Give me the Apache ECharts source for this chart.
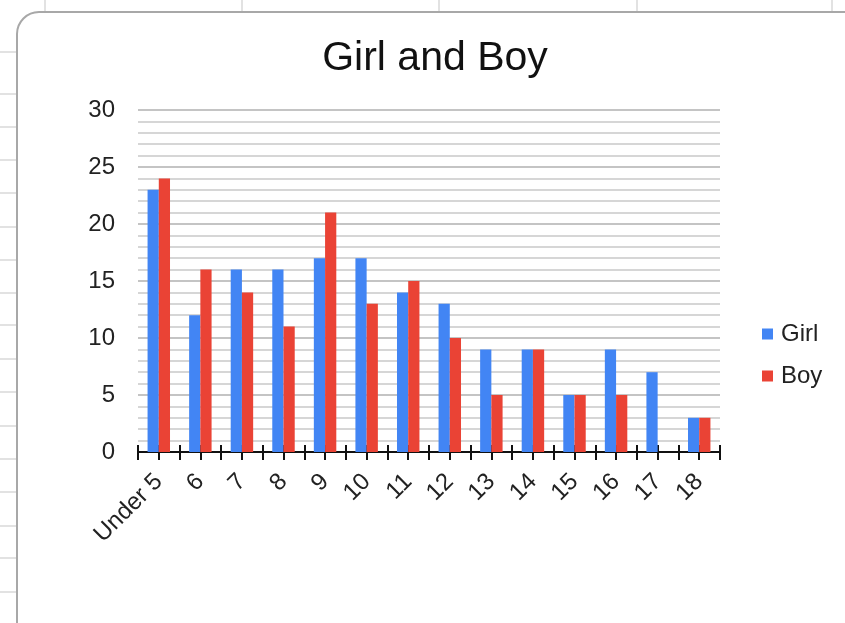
<!DOCTYPE html>
<html>
<head>
<meta charset="utf-8">
<script src="https://cdn.jsdelivr.net/npm/echarts@6/dist/echarts.min.js"></script>
<style>
html,body{margin:0;padding:0;background:#fff;}
#c{width:845px;height:623px;}
</style>
</head>
<body>
<div id="c"></div>
<script>
const categories = ['Under 5','6','7','8','9','10','11','12','13','14','15','16','17','18'];
const girl = [23,12,16,16,17,17,14,13,9,9,5,9,7,3];
const boy  = [24,16,14,11,21,13,15,10,5,9,5,5,0,3];
const yTicks = {min:0, max:30, interval:5};
const titleText = 'Girl and Boy';

// decorative spreadsheet background
const bg = [];
[52,94,127,160,193,227,260,293,325,359,392,426,459,492,526,558,592].forEach(y=>{
  bg.push({type:'line', z:-200, silent:true, shape:{x1:0,y1:y,x2:17,y2:y}, style:{stroke:'#d9d9d9', lineWidth:1.5}});
});
[45,242,439,637,832].forEach(x=>{
  bg.push({type:'line', z:-200, silent:true, shape:{x1:x,y1:0,x2:x,y2:12}, style:{stroke:'#d9d9d9', lineWidth:1.5}});
});
bg.push({type:'rect', z:-100, silent:true, shape:{x:17,y:12,width:860,height:640,r:22}, style:{fill:'#fff', stroke:'#a8a8a8', lineWidth:2}});

const font = 'Liberation Sans, Arial';
// helper axes: ticks at every half category (edges and centres), crossing the axis line
const tickAxis = (inside, len) => ({
  type:'value', min:0, max:categories.length, interval:0.5, position:'bottom', offset:0,
  axisLine:{show:false},
  axisLabel:{show:false},
  axisTick:{show:true, inside:inside, length:len, lineStyle:{color:'#111', width:2}},
  splitLine:{show:false}
});

const chart = echarts.init(document.getElementById('c'));
chart.setOption({
  animation:false,
  backgroundColor:'#fff',
  graphic: bg,
  title:{text:titleText, left:430, top:33, textAlign:'center',
    textStyle:{fontFamily:font, fontSize:41, fontWeight:'normal', color:'#111'}},
  legend:{orient:'vertical', left:762, top:322, padding:0, itemWidth:11, itemHeight:11, itemGap:18,
    icon:'rect', data:['Girl','Boy'],
    textStyle:{fontFamily:font, fontSize:24, color:'#222', padding:[0,0,0,3]}},
  grid:{left:138, right:125, top:110, bottom:171, containLabel:false},
  xAxis:[
    {type:'category', data:categories, position:'bottom',
      axisLine:{show:true, lineStyle:{color:'#111', width:2}},
      axisTick:{show:false},
      axisLabel:{rotate:45, interval:0, margin:26, fontFamily:font, fontSize:24, color:'#222'},
      splitLine:{show:false}},
    tickAxis(false, 8),
    tickAxis(true, 7)
  ],
  yAxis:{type:'value', min:yTicks.min, max:yTicks.max, interval:yTicks.interval,
    axisLine:{show:false}, axisTick:{show:false},
    axisLabel:{margin:23, fontFamily:font, fontSize:24, color:'#222'},
    splitLine:{show:true, lineStyle:{color:'#c4c4c4', width:2}},
    minorTick:{show:false, splitNumber:5},
    minorSplitLine:{show:true, lineStyle:{color:'#d6d6d6', width:2}}},
  series:[
    {name:'Girl', type:'bar', data:girl, xAxisIndex:0, barGap:'0%', barCategoryGap:'46%',
      itemStyle:{color:'#4285F4'}, z:3},
    {name:'Boy', type:'bar', data:boy, xAxisIndex:0, barGap:'0%', barCategoryGap:'46%',
      itemStyle:{color:'#EA4335'}, z:3}
  ]
});
</script>
</body>
</html>
